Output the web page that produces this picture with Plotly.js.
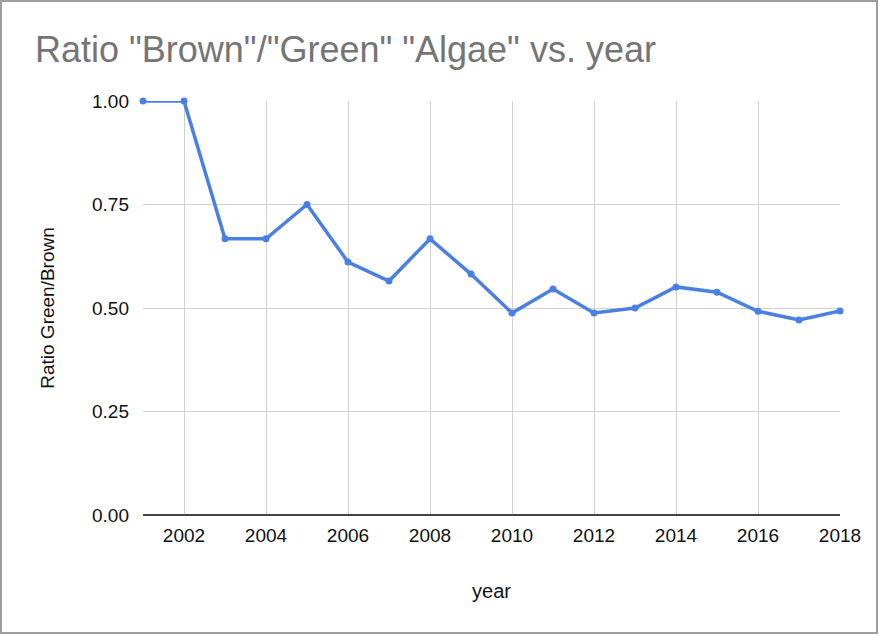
<!DOCTYPE html>
<html>
<head>
<meta charset="utf-8">
<script src="https://cdn.plot.ly/plotly-3.0.1.min.js"></script>
<style>
html,body{margin:0;padding:0;background:#fff;}
#frame{position:absolute;left:0;top:0;width:874px;height:630px;border:2px solid #9e9e9e;}
#chart{width:874px;height:630px;}
</style>
</head>
<body>
<div id="frame"><div id="chart"></div></div>
<script>
const years = [2001,2002,2003,2004,2005,2006,2007,2008,2009,2010,2011,2012,2013,2014,2015,2016,2017,2018];
const ratios = [1.00,1.00,0.667,0.667,0.75,0.611,0.565,0.667,0.582,0.488,0.546,0.488,0.50,0.551,0.538,0.492,0.471,0.493];
const titleText = 'Ratio "Brown"/"Green" "Algae" vs. year';
const xTitle = 'year';
const yTitle = 'Ratio Green/Brown';

const trace = {
  x: years, y: ratios, type: 'scatter', mode: 'lines+markers',
  line: {color: '#4a80e3', width: 3.5},
  marker: {color: '#4a80e3', size: 7},
  cliponaxis: false
};
const layout = {
  width: 874, height: 630,
  margin: {l: 141, r: 36, t: 99, b: 117},
  paper_bgcolor: '#fff', plot_bgcolor: '#fff',
  font: {family: 'Liberation Sans, Arial, sans-serif', color: '#111', size: 19},
  title: {text: titleText, x: 33/874, xref: 'container', xanchor: 'left',
          y: 1 - 47/630, yref: 'container', yanchor: 'middle',
          font: {size: 36, color: '#757575', family: 'Liberation Sans, Arial, sans-serif'}},
  showlegend: false,
  xaxis: {
    range: [2001, 2018], tick0: 2002, dtick: 2, showgrid: true, gridcolor: '#d0d0d0', gridwidth: 1,
    zeroline: false, showline: false, ticks: '', ticklen: 0, ticklabelstandoff: 7,
    tickfont: {size: 19, color: '#111'},
    title: {text: xTitle, font: {size: 20, color: '#111'}, standoff: 38}
  },
  yaxis: {
    range: [0, 1], tick0: 0, dtick: 0.25, tickformat: '.2f', showgrid: true, gridcolor: '#d0d0d0', gridwidth: 1,
    zeroline: true, zerolinecolor: '#444', zerolinewidth: 1.5, showline: false, ticks: '', ticklabelstandoff: 13,
    tickfont: {size: 19, color: '#111'},
    title: {text: yTitle, font: {size: 19, color: '#111'}, standoff: 32}
  }
};
Plotly.newPlot('chart', [trace], layout, {staticPlot: true, displayModeBar: false});
</script>
</body>
</html>
